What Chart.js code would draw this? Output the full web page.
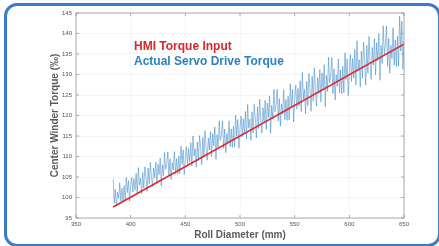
<!DOCTYPE html>
<html>
<head>
<meta charset="utf-8">
<script src="https://cdn.jsdelivr.net/npm/chart.js@4"></script>
<style>
  body { margin: 0; background: #fff; overflow: hidden; }
  #wrap { position: relative; width: 439px; height: 246px; }
  #frame {
    position: absolute; left: 4px; top: 3px; width: 437px; height: 244px;
    border: 3px solid #3b7bc9; border-radius: 13px; box-sizing: border-box;
  }
  .legend {
    position: absolute; left: 134px; font-family: "Liberation Sans", Arial, sans-serif;
    font-weight: bold; font-size: 12px; white-space: nowrap;
  }
  #hmi { top: 39px; color: #d8262c; }
  #servo { top: 54px; color: #2e7fc0; }
</style>
</head>
<body>
<div id="wrap">
  <canvas id="chart" width="439" height="246"></canvas>
  <div id="frame"></div>
  <div class="legend" id="hmi">HMI Torque Input</div>
  <div class="legend" id="servo">Actual Servo Drive Torque</div>
</div>
<script>
// Roll diameter samples (mm) for the measured torque
const diameters = [
  384, 385, 386, 387, 388, 389, 390, 391, 392, 393,
  394, 395, 396, 397, 398, 399, 400, 401, 402, 403,
  404, 405, 406, 407, 408, 409, 410, 411, 412, 413,
  414, 415, 416, 417, 418, 419, 420, 421, 422, 423,
  424, 425, 426, 427, 428, 429, 430, 431, 432, 433,
  434, 435, 436, 437, 438, 439, 440, 441, 442, 443,
  444, 445, 446, 447, 448, 449, 450, 451, 452, 453,
  454, 455, 456, 457, 458, 459, 460, 461, 462, 463,
  464, 465, 466, 467, 468, 469, 470, 471, 472, 473,
  474, 475, 476, 477, 478, 479, 480, 481, 482, 483,
  484, 485, 486, 487, 488, 489, 490, 491, 492, 493,
  494, 495, 496, 497, 498, 499, 500, 501, 502, 503,
  504, 505, 506, 507, 508, 509, 510, 511, 512, 513,
  514, 515, 516, 517, 518, 519, 520, 521, 522, 523,
  524, 525, 526, 527, 528, 529, 530, 531, 532, 533,
  534, 535, 536, 537, 538, 539, 540, 541, 542, 543,
  544, 545, 546, 547, 548, 549, 550, 551, 552, 553,
  554, 555, 556, 557, 558, 559, 560, 561, 562, 563,
  564, 565, 566, 567, 568, 569, 570, 571, 572, 573,
  574, 575, 576, 577, 578, 579, 580, 581, 582, 583,
  584, 585, 586, 587, 588, 589, 590, 591, 592, 593,
  594, 595, 596, 597, 598, 599, 600, 601, 602, 603,
  604, 605, 606, 607, 608, 609, 610, 611, 612, 613,
  614, 615, 616, 617, 618, 619, 620, 621, 622, 623,
  624, 625, 626, 627, 628, 629, 630, 631, 632, 633,
  634, 635, 636, 637, 638, 639, 640, 641, 642, 643,
  644, 645, 646, 647, 648, 649, 650
];

// Actual servo drive torque (per mille)
const servoTorque = [
  104.5, 98.6, 102.0, 97.9, 101.3, 99.8, 103.6, 99.1, 102.3, 99.1,
  102.9, 99.2, 104.9, 101.2, 104.1, 99.1, 102.7, 104.9, 101.3, 104.6,
  101.8, 105.9, 101.0, 107.3, 103.1, 104.7, 100.9, 106.1, 102.3, 107.5,
  105.0, 101.5, 107.2, 103.3, 108.6, 105.0, 102.6, 107.2, 104.8, 108.6,
  103.4, 108.1, 105.6, 109.6, 102.8, 108.0, 105.4, 111.0, 106.9, 108.2,
  111.1, 105.3, 109.4, 104.4, 108.5, 106.7, 111.2, 105.8, 109.5, 105.7,
  110.1, 105.8, 112.5, 108.1, 111.6, 105.6, 109.8, 112.4, 108.1, 111.9,
  108.6, 113.4, 107.7, 115.0, 110.1, 111.9, 107.4, 113.5, 109.0, 115.1,
  112.2, 108.0, 114.7, 110.0, 116.3, 112.1, 109.1, 114.5, 111.6, 116.1,
  110.0, 115.6, 112.6, 117.2, 109.3, 115.3, 112.3, 118.7, 113.9, 115.4,
  118.7, 112.0, 116.7, 110.9, 115.6, 113.5, 118.7, 112.4, 116.7, 112.2,
  117.4, 112.3, 120.1, 115.0, 119.0, 112.0, 116.9, 119.9, 114.8, 119.2,
  115.5, 121.0, 114.3, 122.7, 117.0, 119.1, 113.9, 120.9, 115.7, 122.7,
  119.3, 114.5, 122.1, 116.8, 124.0, 119.1, 115.7, 121.9, 118.5, 123.7,
  116.6, 123.0, 119.5, 124.8, 115.7, 122.5, 119.1, 126.4, 120.9, 122.6,
  126.4, 118.6, 124.1, 117.4, 122.8, 120.3, 126.3, 119.0, 123.9, 118.8,
  124.7, 118.9, 127.7, 121.9, 126.4, 118.4, 124.0, 127.4, 121.6, 126.6,
  122.3, 128.5, 120.9, 130.5, 124.0, 126.3, 120.4, 128.3, 122.4, 130.3,
  126.5, 121.0, 129.6, 123.5, 131.6, 126.1, 122.3, 129.2, 125.4, 131.2,
  123.3, 130.4, 126.5, 132.4, 122.1, 129.8, 125.9, 134.2, 128.0, 129.8,
  134.1, 125.3, 131.4, 123.8, 129.9, 127.1, 133.8, 125.6, 131.1, 125.3,
  132.0, 125.5, 135.3, 128.8, 133.8, 124.8, 131.1, 134.9, 128.3, 133.9,
  129.1, 136.1, 127.5, 138.2, 130.9, 133.6, 126.9, 135.7, 129.1, 137.9,
  133.6, 127.4, 137.1, 130.3, 139.3, 133.1, 128.8, 136.6, 132.3, 138.8,
  129.9, 137.8, 133.4, 140.0, 128.6, 137.1, 132.7, 141.9, 135.0, 137.1,
  141.8, 132.0, 138.8, 130.3, 137.1, 133.9, 141.4, 132.3, 138.4, 131.9,
  139.3, 132.0, 144.2, 135.7, 143.0, 131.3, 138.2
];

// HMI torque input (set point line)
const hmiDiameters = [384, 650];
const hmiTorque = [97.7, 137.4];

const xTicks = [350, 400, 450, 500, 550, 600, 650];
const yTicks = [95, 100, 105, 110, 115, 120, 125, 130, 135, 140, 145];

// box around the plot with inward tick marks, matlab style
const axesBox = {
  id: 'axesBox',
  afterDatasetsDraw(chart) {
    const { ctx, chartArea: a, scales } = chart;
    ctx.save();
    ctx.strokeStyle = '#9a9a9a';
    ctx.lineWidth = 0.8;
    ctx.strokeRect(a.left, a.top, a.right - a.left, a.bottom - a.top);
    ctx.beginPath();
    yTicks.forEach(v => {
      const y = scales.y.getPixelForValue(v);
      ctx.moveTo(a.left, y); ctx.lineTo(a.left + 3, y);
      ctx.moveTo(a.right, y); ctx.lineTo(a.right - 3, y);
    });
    xTicks.forEach(v => {
      const x = scales.x.getPixelForValue(v);
      ctx.moveTo(x, a.bottom); ctx.lineTo(x, a.bottom - 3);
      ctx.moveTo(x, a.top); ctx.lineTo(x, a.top + 3);
    });
    ctx.stroke();
    ctx.restore();
  }
};

const tickFont = { family: 'Liberation Sans', size: 6 };
const titleFont = { family: 'Liberation Sans', size: 10, weight: 'bold' };

new Chart(document.getElementById('chart'), {
  type: 'line',
  data: {
    datasets: [
      {
        label: 'HMI Torque Input',
        data: hmiDiameters.map((d, i) => ({ x: d, y: hmiTorque[i] })),
        borderColor: '#e0262c',
        borderWidth: 1.6,
        pointRadius: 0
      },
      {
        label: 'Actual Servo Drive Torque',
        data: diameters.map((d, i) => ({ x: d, y: servoTorque[i] })),
        borderColor: 'rgba(55, 135, 198, 0.75)',
        borderWidth: 0.7,
        pointRadius: 0
      }
    ]
  },
  options: {
    responsive: false,
    animation: false,
    layout: { padding: { left: 46, top: 13, right: 35, bottom: 0 } },
    plugins: { legend: { display: false }, tooltip: { enabled: false } },
    scales: {
      x: {
        type: 'linear',
        min: 350, max: 650,
        afterBuildTicks: s => { s.ticks = xTicks.map(v => ({ value: v })); },
        afterFit: s => { s.height = 28; },
        grid: { color: '#f5f5f5', drawTicks: false },
        border: { display: false },
        ticks: { font: tickFont, color: '#555', padding: 3, maxRotation: 0 },
        title: { display: true, text: 'Roll Diameter (mm)', font: titleFont, color: '#5a5a5a', padding: { top: 0, bottom: 5 } }
      },
      y: {
        min: 95, max: 145,
        afterBuildTicks: s => { s.ticks = yTicks.map(v => ({ value: v })); },
        afterFit: s => { s.width = 30; },
        grid: { color: '#f5f5f5', drawTicks: false },
        border: { display: false },
        ticks: { font: tickFont, color: '#555', padding: 4 },
        title: { display: true, text: 'Center Winder Torque (‰)', font: titleFont, color: '#5a5a5a', padding: { top: 3, bottom: 0 } }
      }
    }
  },
  plugins: [axesBox]
});
</script>
</body>
</html>
